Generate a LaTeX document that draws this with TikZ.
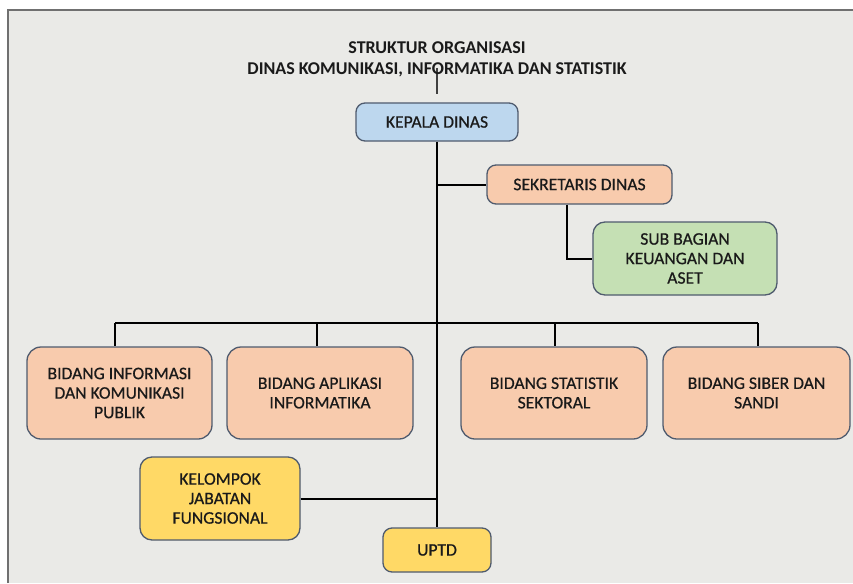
\documentclass[tikz,border=0pt]{standalone}
\usepackage{fontspec}
\setmainfont{Carlito}
\newfontfamily\boxfont[FakeBold=0.6]{Carlito}
\definecolor{bgc}{HTML}{EAEAE7}
\definecolor{framec}{HTML}{707070}
\definecolor{edgec}{HTML}{4F5B6E}
\definecolor{bluef}{HTML}{BDD7EE}
\definecolor{peachf}{HTML}{F8CBAD}
\definecolor{greenf}{HTML}{C5E0B4}
\definecolor{yellowf}{HTML}{FFD966}
\definecolor{txtc}{HTML}{1A1A1A}
\tikzset{
  orgbox/.style={draw=edgec, line width=1.3pt, rounded corners=9pt, align=center,
    inner sep=2pt, text=txtc, font=\boxfont\fontsize{17.6}{19.5}\selectfont},
  bigbox/.style={orgbox, rounded corners=14pt, minimum height=92pt},
  conn/.style={draw=black, line width=2pt}
}
\begin{document}
\begin{tikzpicture}[x=1pt,y=-1pt]
\useasboundingbox (0,0) rectangle (853,583);
\fill[white] (0,0) rectangle (853,583);
\fill[bgc] (8,10) rectangle (853,583);
\draw[framec, line width=2pt] (8,583) -- (8,10) -- (853,10);

% title connector
\coordinate (tl) at (437,68);
\coordinate (tk) at (437,94);
\draw[line width=1.4pt, black!75] (tl) -- (tk);

\node[font=\fontsize{18}{21}\selectfont\bfseries, text=txtc, align=center] (title) at (437,59)
  {STRUKTUR ORGANISASI\\DINAS KOMUNIKASI, INFORMATIKA DAN STATISTIK};

\node[orgbox, fill=bluef, minimum width=162pt, minimum height=38pt] (kep) at (437,122) {KEPALA DINAS};
\node[orgbox, fill=peachf, minimum width=185pt, minimum height=39pt] (sek) at (579.5,184.5) {SEKRETARIS DINAS};
\node[orgbox, fill=greenf, minimum width=184pt, minimum height=73pt, rounded corners=12pt] (sub) at (685,258.5) {SUB BAGIAN\\KEUANGAN DAN\\ASET};

\node[bigbox, fill=peachf, minimum width=185pt] (b1) at (119.5,393) {BIDANG INFORMASI\\DAN KOMUNIKASI\\PUBLIK};
\node[bigbox, fill=peachf, minimum width=186pt] (b2) at (320,393) {BIDANG APLIKASI\\INFORMATIKA};
\node[bigbox, fill=peachf, minimum width=186pt] (b3) at (554,393) {BIDANG STATISTIK\\SEKTORAL};
\node[bigbox, fill=peachf, minimum width=187pt] (b4) at (756.5,393) {BIDANG SIBER DAN\\SANDI};

\node[orgbox, fill=yellowf, minimum width=160pt, minimum height=83pt, rounded corners=12pt] (kel) at (220,498.5) {KELOMPOK\\JABATAN\\FUNGSIONAL};
\node[orgbox, fill=yellowf, minimum width=108pt, minimum height=44pt] (uptd) at (437,550) {UPTD};

% connectors
\coordinate (sekj) at (437,184.5);
\coordinate (skx) at (567,0);
\coordinate (bus1) at (115,323);
\coordinate (bus2) at (317,323);
\coordinate (bus3) at (555,323);
\coordinate (bus4) at (758,323);
\coordinate (kelj) at (437,498.5);

\draw[conn] (kep.south) -- (uptd.north);
\draw[conn] (sekj) -- (sek.west);
\draw[conn] (sek.south -| skx) |- (sub.west);
\draw[conn] (bus1) -- (bus4);
\draw[conn] (bus1) -- (b1.north -| bus1);
\draw[conn] (bus2) -- (b2.north -| bus2);
\draw[conn] (bus3) -- (b3.north -| bus3);
\draw[conn] (bus4) -- (b4.north -| bus4);
\draw[conn] (kel.east) -- (kelj);
\end{tikzpicture}
\end{document}
